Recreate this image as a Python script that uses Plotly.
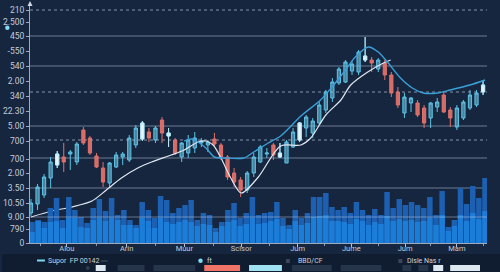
import plotly.graph_objects as go

# ---------------- data (price scale units) ----------------
opens  = [30,39,48,65,78,86,89,81,113,105,87,75,60,76,86,83,98,104,111,103,
          123,107,103,86,90,95,100,98,104,98,86,70,63,53,70,81,89,98,86,80,
          96,103,115,110,120,133,145,160,161,172,171,183,183,174,180,168,151,130,140,140,
          135,125,136,148,133,116,125,135,138,151]
closes = [40,56,66,81,89,81,91,99,100,90,76,61,80,88,89,105,115,120,105,115,
          110,110,90,100,103,105,102,101,99,86,66,61,53,70,86,96,90,88,90,101,
          111,120,126,122,138,151,161,174,181,179,191,187,180,183,168,150,138,146,145,128,
          120,140,141,131,125,135,141,148,150,158]
highs  = [44,59,69,86,92,100,93,101,116,107,90,81,81,91,91,108,118,122,115,117,
          126,115,105,101,108,111,105,103,110,100,88,75,66,72,90,98,95,100,100,103,
          115,121,128,125,141,153,165,176,183,182,193,206,186,185,183,171,156,150,146,143,
          138,141,145,151,136,138,143,153,153,163]
lows   = [27,33,45,55,75,71,73,78,98,88,75,56,55,75,78,81,95,102,101,100,
          100,96,88,81,85,90,96,91,96,83,63,56,46,50,66,80,85,83,85,80,
          95,101,106,105,118,130,141,158,160,168,168,181,171,171,163,146,135,125,131,126,
          115,115,131,130,116,113,123,133,136,148]
white_idx = [4, 17, 21, 38, 41, 51, 69]

vol_back  = [21,23,21,35,45,23,46,33,26,20,35,44,32,45,28,33,23,18,41,33,
             25,47,43,30,35,38,43,23,30,28,15,21,33,40,25,30,46,28,
             30,31,41,25,18,33,25,30,46,46,50,36,33,36,30,41,33,28,34,28,
             51,35,44,38,41,38,35,46,28,52,16,23,55,39,57,45,65]
vol_front = [11,22,15,21,22,15,25,25,16,15,23,25,22,25,23,18,18,15,25,22,
             15,25,21,19,21,23,21,17,19,18,11,17,21,23,17,19,25,19,
             20,22,24,17,14,22,18,20,26,27,28,22,22,21,19,24,22,18,21,19,
             27,22,24,22,23,21,22,25,18,28,12,17,28,22,30,24,32]

slow_x = [0,3.2,6.2,9.3,11.5,13.8,16.3,18.4,21.4,23.4,25.5,26.7,27.8,29.0,30.5,32.1,
          34.7,38.1,41.2,42.7,45.0,47.3,48.8,51.4,53.8,54.9]
slow_y = [26,32,36,42,53,65,75,81,88,93,101,102,98,85,65,50,66,97,98,105,128,143,158,171,180,183]

fast_x = [23.4,24.5,25.5,26.7,28.0,29.8,32.5,34.0,36.2,38.1,41.2,44.2,46.2,48.0,49.5,51.5,
          53.0,54.4,56.4,58.2,59.9,62.0,64.0,67.0,69.3]
fast_y = [102,104,101,95,86,85,85,91,100,107,127,143,158,173,186,196,191,181,165,155,150,150,153,158,163]

y_tickvals = [233,221,207,192,177,162,147,132,117,102,84,70,55,40,26,14,0]
y_ticktext = ["210","2.500","450","-550","540","2.00","340","22.30","5.00","700","700",
              "2.00","3.50","10.50","9.00","790","0"]
x_tickvals = [5.47,14.6,23.4,32.1,40.7,48.9,57.1,65.0]
x_ticktext = ["Alou","Arin","Muur","Scisor","Jum","Jume","Jum","Mam"]
x_minor    = [1.5,10.0,19.0,27.8,36.4,44.8,53.0,61.0,69.0]

grid_solid  = [207,177,117,85,55]
grid_dotted = [233,151,103]
vol_line = 26

# ---------------- figure ----------------
BG = "#16263f"
fig = go.Figure()

fig.add_trace(go.Bar(x=list(range(len(vol_back))), y=vol_back, xaxis="x2", yaxis="y",
                     marker=dict(color="#1d5fb0", line=dict(width=0))))
fig.add_trace(go.Bar(x=list(range(len(vol_front))), y=vol_front, xaxis="x2", yaxis="y",
                     marker=dict(color="#1b7dd8", line=dict(width=0))))

idx = list(range(len(opens)))
fig.add_trace(go.Candlestick(
    x=idx, open=opens, high=highs, low=lows, close=closes,
    increasing=dict(line=dict(color="#5cc4e6", width=1), fillcolor="rgba(120,205,235,0.55)"),
    decreasing=dict(line=dict(color="#e0706a", width=1), fillcolor="rgba(232,118,108,0.9)"),
    whiskerwidth=0))
fig.add_trace(go.Candlestick(
    x=[idx[i] for i in white_idx], open=[opens[i] for i in white_idx],
    high=[highs[i] for i in white_idx], low=[lows[i] for i in white_idx],
    close=[closes[i] for i in white_idx],
    increasing=dict(line=dict(color="#bfe9f5", width=1), fillcolor="#e6f6fb"),
    decreasing=dict(line=dict(color="#bfe9f5", width=1), fillcolor="#e6f6fb"),
    whiskerwidth=0))

fig.add_trace(go.Scatter(x=slow_x, y=slow_y, mode="lines",
                         line=dict(color="#dfe7f0", width=1.2, shape="spline", smoothing=0.8)))
fig.add_trace(go.Scatter(x=fast_x, y=fast_y, mode="lines",
                         line=dict(color="#3b9fd8", width=1.4, shape="spline", smoothing=0.8)))

shapes = []
for v in grid_solid:
    shapes.append(dict(type="line", xref="paper", yref="y", x0=0, x1=1, y0=v, y1=v,
                       line=dict(color="rgba(165,180,200,0.6)", width=1), layer="below"))
for v in grid_dotted:
    shapes.append(dict(type="line", xref="paper", yref="y", x0=0, x1=1, y0=v, y1=v,
                       line=dict(color="rgba(170,185,205,0.75)", width=1, dash="dot"), layer="below"))
shapes.append(dict(type="line", xref="paper", yref="y", x0=0, x1=1, y0=vol_line, y1=vol_line,
                   line=dict(color="rgba(200,215,235,0.45)", width=1), layer="above"))

# pixel -> paper helpers for decorations
def px(x):
    return (x - 28) / 459.0
def py(y):
    return (243 - y) / 240.0

# bottom strip
shapes.append(dict(type="rect", xref="paper", yref="paper", x0=px(0), x1=px(500), y0=py(254), y1=py(272),
                   fillcolor="#101c2f", line=dict(width=0), layer="below"))
# axis arrow head
shapes.append(dict(type="path", xref="paper", yref="paper",
                   path="M {} {} L {} {} L {} {} Z".format(px(25.5), py(6), px(30.5), py(6), px(28), py(1)),
                   fillcolor="#cfd8e4", line=dict(width=0)))
# cyan dot on left
shapes.append(dict(type="circle", xref="paper", yref="paper", x0=px(3), x1=px(7.5), y0=py(30), y1=py(25.5),
                   fillcolor="#7fdcf2", line=dict(width=0)))
# legend swatches row 1
shapes.append(dict(type="line", xref="paper", yref="paper", x0=px(35), x1=px(43), y0=py(260.5), y1=py(260.5),
                   line=dict(color="#7fd6f0", width=2)))
shapes.append(dict(type="line", xref="paper", yref="paper", x0=px(99), x1=px(106), y0=py(261), y1=py(261),
                   line=dict(color="#34435a", width=1.5)))
shapes.append(dict(type="circle", xref="paper", yref="paper", x0=px(197), x1=px(201.5), y0=py(263), y1=py(258.5),
                   fillcolor="#7fdcf2", line=dict(width=0)))
for x0 in (285, 398):
    shapes.append(dict(type="rect", xref="paper", yref="paper", x0=px(x0), x1=px(x0 + 4), y0=py(263), y1=py(259),
                       fillcolor="#3a475b", line=dict(width=0)))
# legend row 2 blocks
row2 = [(94,104,"#dde7f0"),(116,143,"#26354a"),(152,194,"#26354a"),(203,239,"#f07468"),
        (248,281,"#9fe3f2"),(291,331,"#26354a"),(340,381,"#26354a"),(402,411,"#26354a"),
        (418,428,"#26354a"),(433,443,"#dde7f0"),(450,480,"#dde7f0")]
for a, b, c in row2:
    shapes.append(dict(type="rect", xref="paper", yref="paper", x0=px(a), x1=px(b), y0=py(271), y1=py(265),
                       fillcolor=c, line=dict(width=0)))
shapes.append(dict(type="circle", xref="paper", yref="paper", x0=px(84), x1=px(88), y0=py(270), y1=py(266),
                   fillcolor="#2e3c52", line=dict(width=0)))

lf = dict(family="Roboto, Arial, sans-serif", size=7, color="#c9d3df")
annotations = [
    dict(text="Supor  FP 00142", xref="paper", yref="paper", x=px(44), y=py(261), xanchor="left",
         yanchor="middle", showarrow=False, font=lf),
    dict(text="ft", xref="paper", yref="paper", x=px(204), y=py(261), xanchor="left",
         yanchor="middle", showarrow=False, font=lf),
    dict(text="BBD/CF", xref="paper", yref="paper", x=px(295), y=py(261), xanchor="left",
         yanchor="middle", showarrow=False, font=lf),
    dict(text="Dlsle Nas r", xref="paper", yref="paper", x=px(405), y=py(261), xanchor="left",
         yanchor="middle", showarrow=False, font=lf),
]

tickfont = dict(family="Roboto, Arial, sans-serif", size=8.5, color="#c3ccd9")
fig.update_layout(
    width=500, height=272,
    margin=dict(l=28, r=13, t=3, b=29),
    paper_bgcolor=BG, plot_bgcolor=BG,
    showlegend=False, barmode="overlay", bargap=0.1,
    shapes=shapes, annotations=annotations,
    xaxis=dict(range=[-0.15, 69.6], rangeslider=dict(visible=False), showgrid=False, zeroline=False,
               showline=True, linecolor="#9eabbf", linewidth=1,
               tickmode="array", tickvals=x_tickvals, ticktext=x_ticktext,
               ticks="outside", ticklen=3, tickcolor="#b8c3d2", tickfont=dict(tickfont, size=7.5),
               ticklabelstandoff=-5,
               minor=dict(tickvals=x_minor, ticks="outside", ticklen=2, tickcolor="#8d9ab0")),
    xaxis2=dict(range=[-0.33, 74.33], overlaying="x", visible=False),
    yaxis=dict(range=[0, 240], showgrid=False, zeroline=False,
               showline=True, linecolor="#9eabbf", linewidth=1,
               tickmode="array", tickvals=y_tickvals, ticktext=y_ticktext,
               ticks="outside", ticklen=3, tickcolor="#9eabbf", tickfont=tickfont),
)

fig.write_html("out.html")
